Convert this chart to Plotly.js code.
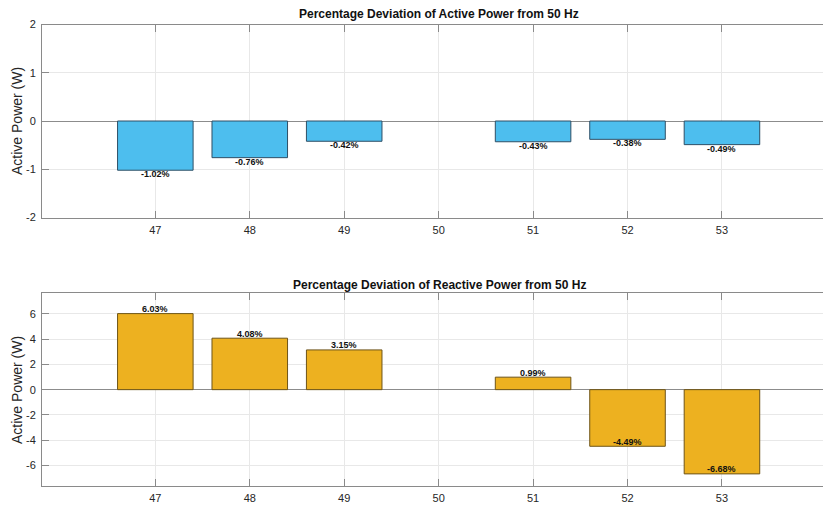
<!DOCTYPE html>
<html>
<head>
<meta charset="utf-8">
<script src="https://cdn.plot.ly/plotly-3.0.1.min.js"></script>
<style>
  html, body { margin: 0; padding: 0; background: #fff; overflow: hidden; }
  #chart { width: 823px; height: 507px; }
</style>
</head>
<body>
<div id="chart"></div>
<script>
// Frequencies (Hz) at which the deviation is reported; 50 Hz is the reference
const freqs = [47, 48, 49, 51, 52, 53];
const freqTicks = [47, 48, 49, 50, 51, 52, 53];

// Percentage deviation from the 50 Hz operating point
const activeDev = [-1.02, -0.76, -0.42, -0.43, -0.38, -0.49];
const reactiveDev = [6.03, 4.08, 3.15, 0.99, -4.49, -6.68];

// y-axis tick positions of each panel
const activeTicks = [-2, -1, 0, 1, 2];
const reactiveTicks = [-6, -4, -2, 0, 2, 4, 6];

const activeTitle = 'Percentage Deviation of Active Power from 50 Hz';
const reactiveTitle = 'Percentage Deviation of Reactive Power from 50 Hz';
const yLabel = 'Active Power (W)';

const FONT = 'Liberation Sans, Arial, Helvetica, sans-serif';
const AXIS_COLOR = '#8a8a8a';
const GRID_COLOR = '#e8e8e8';
const TEXT_COLOR = '#262626';

const traces = [
  {
    type: 'bar', x: freqs, y: activeDev, width: 0.8,
    xaxis: 'x', yaxis: 'y',
    marker: { color: '#4DBEEE', line: { color: '#2f4f66', width: 1 } },
    hoverinfo: 'x+y'
  },
  {
    type: 'bar', x: freqs, y: reactiveDev, width: 0.8,
    xaxis: 'x2', yaxis: 'y2',
    marker: { color: '#EDB120', line: { color: '#6e5418', width: 1 } },
    hoverinfo: 'x+y'
  }
];

function xAxis(anchor) {
  return {
    anchor: anchor,
    domain: [0, 1],
    range: [45.8, 54.07],
    tickmode: 'array',
    tickvals: freqTicks,
    ticktext: freqTicks.map(String),
    ticks: 'inside', ticklen: 7, tickcolor: AXIS_COLOR, tickwidth: 1,
    ticklabelstandoff: 2,
    showline: true, linecolor: AXIS_COLOR, linewidth: 1,
    mirror: 'ticks',
    showgrid: true, gridcolor: GRID_COLOR, gridwidth: 1,
    zeroline: false,
    tickfont: { family: FONT, size: 11, color: TEXT_COLOR },
    fixedrange: true
  };
}

function yAxis(anchor, domain, range, ticks) {
  return {
    anchor: anchor,
    domain: domain,
    range: range,
    tickmode: 'array',
    tickvals: ticks,
    ticktext: ticks.map(String),
    ticks: 'inside', ticklen: 7, tickcolor: AXIS_COLOR, tickwidth: 1,
    ticklabelstandoff: 3,
    showline: true, linecolor: AXIS_COLOR, linewidth: 1,
    mirror: false,
    showgrid: true, gridcolor: GRID_COLOR, gridwidth: 1,
    zeroline: true, zerolinecolor: '#8c8c8c', zerolinewidth: 1,
    tickfont: { family: FONT, size: 11, color: TEXT_COLOR },
    fixedrange: true
  };
}

// Value labels: below the bar end on the upper panel, above it on the lower panel
const annotations = [];
freqs.forEach((f, i) => {
  annotations.push({
    xref: 'x', yref: 'y', x: f, y: activeDev[i],
    text: activeDev[i].toFixed(2) + '%',
    showarrow: false, xanchor: 'center', yanchor: 'middle', yshift: -4,
    font: { family: FONT, size: 9, color: '#111', weight: 'bold' }
  });
  annotations.push({
    xref: 'x2', yref: 'y2', x: f, y: reactiveDev[i],
    text: reactiveDev[i].toFixed(2) + '%',
    showarrow: false, xanchor: 'center', yanchor: 'middle', yshift: 4.5,
    font: { family: FONT, size: 9, color: '#111', weight: 'bold' }
  });
});

// Panel titles and y-axis labels
const titleFont = { family: FONT, size: 12, color: '#111', weight: 'bold' };
annotations.push(
  { xref: 'paper', yref: 'paper', x: 0.508, y: 1 - 14 / 507, text: '<b>' + activeTitle + '</b>',
    showarrow: false, xanchor: 'center', yanchor: 'middle', font: titleFont },
  { xref: 'paper', yref: 'paper', x: 0.509, y: 1 - 285 / 507, text: '<b>' + reactiveTitle + '</b>',
    showarrow: false, xanchor: 'center', yanchor: 'middle', font: titleFont },
  { xref: 'paper', yref: 'paper', x: (17 - 42) / 781, y: 1 - 121 / 507, text: yLabel, textangle: -90,
    showarrow: false, xanchor: 'center', yanchor: 'middle',
    font: { family: FONT, size: 14, color: TEXT_COLOR } },
  { xref: 'paper', yref: 'paper', x: (17 - 42) / 781, y: 1 - 390 / 507, text: yLabel, textangle: -90,
    showarrow: false, xanchor: 'center', yanchor: 'middle',
    font: { family: FONT, size: 14, color: TEXT_COLOR } }
);

const layout = {
  width: 823, height: 507,
  margin: { l: 42, r: 0, t: 0, b: 0 },
  paper_bgcolor: '#ffffff', plot_bgcolor: '#ffffff',
  showlegend: false,
  bargap: 0,
  xaxis: xAxis('y'),
  yaxis: yAxis('x', [1 - 217.5 / 507, 1 - 24.5 / 507], [-2, 2], activeTicks),
  xaxis2: xAxis('y2'),
  yaxis2: yAxis('x2', [1 - 486 / 507, 1 - 293.3 / 507], [-7.64, 7.64], reactiveTicks),
  annotations: annotations
};

Plotly.newPlot('chart', traces, layout, { displayModeBar: false, staticPlot: true });
</script>
</body>
</html>
